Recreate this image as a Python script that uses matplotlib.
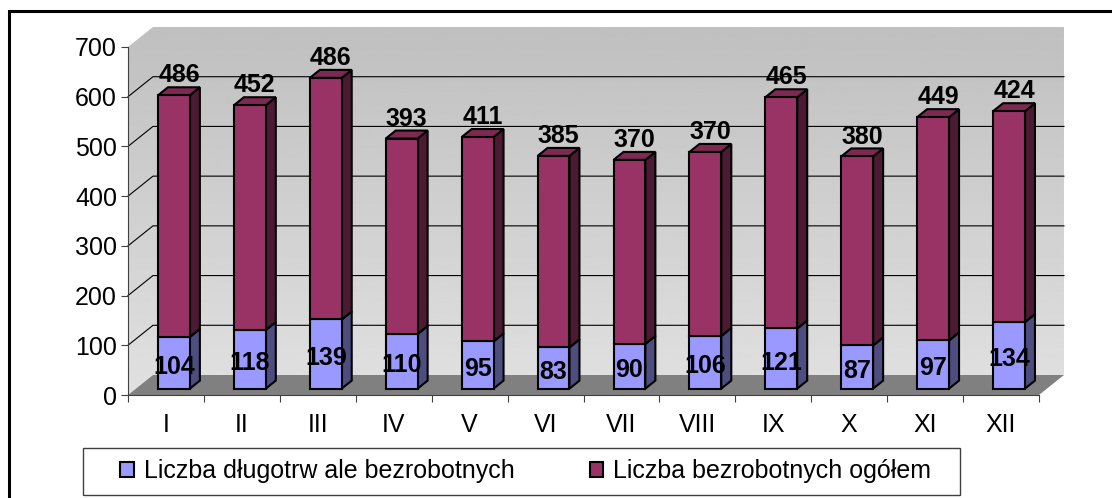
import numpy as np
import matplotlib
matplotlib.use("Agg")
import matplotlib.pyplot as plt
from matplotlib.patches import Polygon, Rectangle, Patch

plt.rcParams['font.family'] = ['Liberation Sans', 'DejaVu Sans']

# Data
months = ['I', 'II', 'III', 'IV', 'V', 'VI', 'VII', 'VIII', 'IX', 'X', 'XI', 'XII']
long_term = [104, 118, 139, 110, 95, 83, 90, 106, 121, 87, 97, 134]
total = [486, 452, 486, 393, 411, 385, 370, 370, 465, 380, 449, 424]
series_names = ['Liczba długotrw ale bezrobotnych', 'Liczba bezrobotnych ogółem']

# colours (front, side, top)
blue = ('#9999ff', '#4d4d80', '#7a7acc')
plum = ('#993366', '#4d1a33', '#7d2952')

W, H = 1112, 498
FS = 18
fig = plt.figure(figsize=(W / 100, H / 100), dpi=100)
ax = fig.add_axes([128 / W, (H - 395) / H, (1039 - 128) / W, (395 - 47) / H])

n = len(months)
ymax = 700
DX = 25 / 76          # depth of the 3d box in category units
DY = 20 / (348 / ymax)  # depth of the 3d box in value units
f0, fd = 0.32, 0.40   # bar front depth and bar thickness (fraction of box depth)
bw = 0.42             # bar width

# walls with gradient
wall = Polygon([(0, 0), (DX, DY), (n + DX, DY), (n + DX, ymax + DY), (DX, ymax + DY), (0, ymax)],
               closed=True, facecolor='none', edgecolor='none', clip_on=False)
ax.add_patch(wall)
grad = np.linspace(0.88, 0.75, 256).reshape(-1, 1)
im = ax.imshow(grad, cmap='gray', vmin=0, vmax=1, origin='lower', aspect='auto',
               extent=(0, n + DX, 0, ymax + DY), zorder=0, interpolation='bilinear')
im.set_clip_box(fig.bbox)
im.set_clip_path(wall)

# floor
ax.add_patch(Polygon([(0, 0), (n, 0), (n + DX, DY), (DX, DY)], closed=True,
                     facecolor='#808080', edgecolor='none', zorder=1, clip_on=False))

# gridlines on back wall and side wall
for v in range(100, ymax, 100):
    ax.plot([0, DX, n + DX], [v, v + DY, v + DY], color='black', lw=0.8, zorder=1, clip_on=False)


def draw_box(x0, y0, h, cols):
    dx, dy = fd * DX, fd * DY
    front = Rectangle((x0, y0), bw, h, facecolor=cols[0], edgecolor='black', lw=1.5, zorder=3)
    side = Polygon([(x0 + bw, y0), (x0 + bw + dx, y0 + dy), (x0 + bw + dx, y0 + h + dy), (x0 + bw, y0 + h)],
                   closed=True, facecolor=cols[1], edgecolor='black', lw=1.5, zorder=3)
    top = Polygon([(x0, y0 + h), (x0 + dx, y0 + h + dy), (x0 + bw + dx, y0 + h + dy), (x0 + bw, y0 + h)],
                  closed=True, facecolor=cols[2], edgecolor='black', lw=1.5, zorder=3)
    for p in (side, top, front):
        p.set_clip_on(False)
        ax.add_patch(p)


for i in range(n):
    x0 = i + 0.5 - bw / 2 + f0 * DX
    y0 = f0 * DY
    draw_box(x0, y0, long_term[i], blue)
    draw_box(x0, y0 + long_term[i], total[i], plum)
    ax.text(x0 + bw / 2, y0 + long_term[i] / 2 - 8, str(long_term[i]), ha='center', va='center',
            fontsize=FS, fontweight='bold', zorder=5)
    ax.text(x0 + bw / 2 + fd * DX / 2, y0 + long_term[i] + total[i] + 40, str(total[i]),
            ha='center', va='center', fontsize=FS, fontweight='bold', zorder=5, clip_on=False)

ax.set_xlim(0, n)
ax.set_ylim(0, ymax)
for s in ['top', 'right']:
    ax.spines[s].set_visible(False)
ax.spines['left'].set_color('#404040')
ax.spines['bottom'].set_color('#404040')
ax.spines['left'].set_zorder(2)
ax.set_yticks(range(0, ymax + 1, 100))
ax.tick_params(axis='y', length=5, width=0.8, pad=3, labelsize=FS, color='#404040')
ax.set_xticks(range(n + 1))
ax.set_xticklabels([])
ax.set_xticks(np.arange(n) + 0.5, minor=True)
ax.set_xticklabels(months, minor=True)
ax.tick_params(axis='x', which='major', length=5, width=0.8, color='#404040')
ax.tick_params(axis='x', which='minor', length=0, pad=13, labelsize=FS)
ax.patch.set_visible(False)

handles = [Patch(facecolor=blue[0], edgecolor='black', lw=1.5),
           Patch(facecolor=plum[0], edgecolor='black', lw=1.5)]
leg = fig.legend(handles, series_names, loc='center left', ncol=2,
                 bbox_to_anchor=(120 / W, (H - 471) / H), borderaxespad=0, borderpad=0,
                 fontsize=FS, frameon=False, handlelength=0.55, handleheight=0.55,
                 handletextpad=0.4, columnspacing=3.0)
# legend frame
fig.patches.append(Rectangle((83 / W, (H - 495) / H), 877 / W, 47 / H, transform=fig.transFigure,
                             facecolor='none', edgecolor='#404040', lw=1.0))

# outer border
fig.patches.append(Rectangle((9 / W, -0.1), 2, 1.1 - 11 / H, transform=fig.transFigure,
                             facecolor='none', edgecolor='black', lw=2.2))

fig.savefig('out.png', dpi=100)
